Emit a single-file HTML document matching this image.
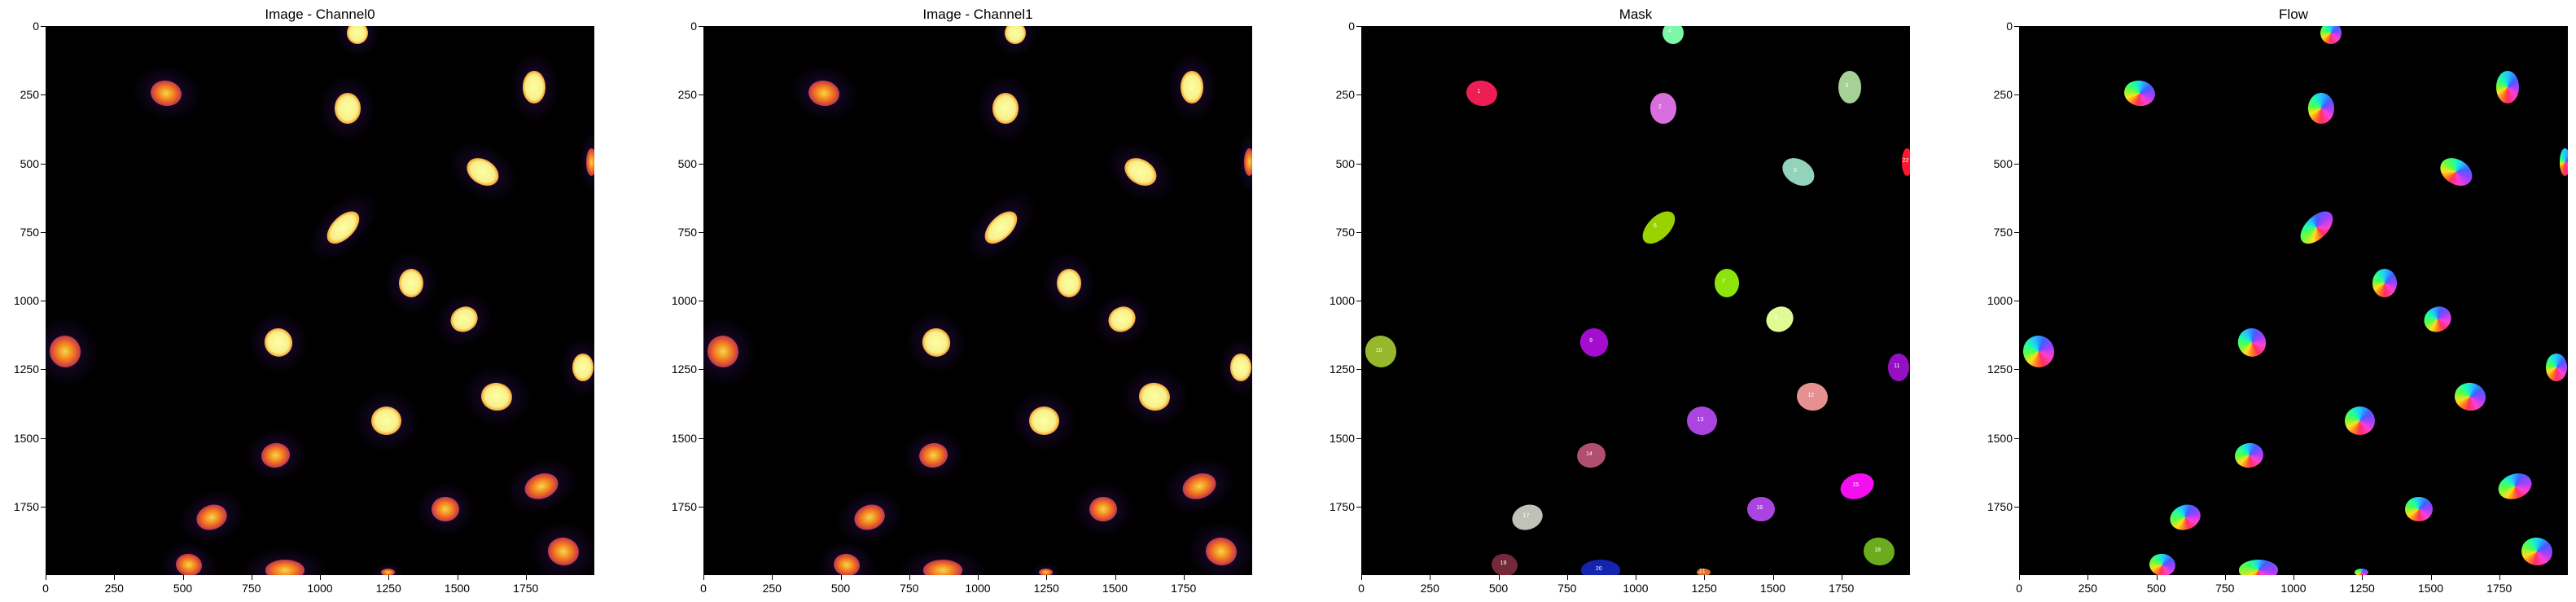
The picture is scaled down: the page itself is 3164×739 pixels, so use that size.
<!DOCTYPE html>
<html><head><meta charset="utf-8">
<style>
body{margin:0;width:3164px;height:739px;background:#fff;position:relative;overflow:hidden;font-family:"Liberation Sans","DejaVu Sans",sans-serif}
.panel{position:absolute;top:32px;width:674px;height:674px;background:#000;overflow:hidden}
.title{position:absolute;top:8px;width:674px;text-align:center;font-size:17px;color:#000}
.blob{position:absolute;border-radius:50%}
.tk{position:absolute;background:#000}
.tl{position:absolute;font-size:14px;color:#000;white-space:nowrap}
</style></head>
<body>
<div id="root"></div>
<script>
const titles=["Image - Channel0","Image - Channel1","Mask","Flow"];
const ticks=[0,250,500,750,1000,1250,1500,1750];
const cx=[441,1100,1781,1136,1594,1083,1332,1524,849,71,1959,1645,1242,837,1808,1458,607,1888,524,872,1249,1990];
const cy=[244,300,223,25,531,733,936,1069,1152,1187,1243,1350,1439,1564,1676,1760,1788,1913,1962,1983,1990,496];
const rx=[57,48,41,38,62,72,45,50,50,56,38,57,55,52,62,50,57,57,48,72,25,20];
const ry=[46,56,59,40,44,40,52,44,52,58,50,50,52,44,44,45,44,50,40,38,14,50];
const rot=[10,0,0,0,32,-45,0,-30,-30,-20,0,10,0,-10,-20,0,-20,10,10,0,0,0];
const bright=[0,1,1,1,1,1,1,1,1,0,1,1,1,0,0,0,0,0,0,0,0,0];
const maskColors=["#ee1d56","#d96ee0","#a6d196","#7cf7a5","#93d2bb","#9ad200","#8de40c","#e0fa95","#a40ccf","#97b72d","#9610c3","#e69191","#ac45e0","#b04f70","#f30ff0","#a944e0","#c0c2b8","#6aac1c","#74293a","#1423b0","#e0702a","#ff1730"];
const lefts=[56,864,1672,2480];
const S=674/2000;
const sx=v=>v*S, sy=v=>v*S;
const root=document.getElementById('root');
function mk(parent,cls){const d=document.createElement('div');d.className=cls;parent.appendChild(d);return d;}
lefts.forEach((L,p)=>{
  const t=mk(root,'title');t.style.left=L+'px';t.textContent=titles[p];
  
  
  const pn=mk(root,'panel');pn.style.left=L+'px';
  
  
  for(let i=0;i<cx.length;i++){
    const w=sx(rx[i])*2,h=sy(ry[i])*2,x=sx(cx[i]),y=sy(cy[i]);
    if(p<2){
      const c=mk(pn,'blob');
      c.style.cssText=`left:${x-w*1.1}px;top:${y-h*1.1}px;width:${w*2.2}px;height:${h*2.2}px;background:radial-gradient(closest-side,rgba(60,20,100,0.55),rgba(40,12,70,0.25) 70%,rgba(0,0,0,0));transform:rotate(${rot[i]}deg)`;
      
      
    }
    const b=mk(pn,'blob');
    b.style.cssText=`left:${x-w/2}px;top:${y-h/2}px;width:${w}px;height:${h}px;transform:rotate(${rot[i]}deg)`;
    if(p<2){
      b.style.background=bright[i]?'radial-gradient(closest-side,#fcffa4,#f8f08a 75%,#f5a030)':'radial-gradient(closest-side,#f6d746,#f1731d 60%,#c43c4e 95%)';
    }else if(p===2){
      b.style.background=maskColors[i];
    }else{
      b.style.background='conic-gradient(#20c8ff,#4060ff 45deg,#a040ff 90deg,#ff40d0 135deg,#ff3060 180deg,#ff8020 210deg,#ffe020 240deg,#60ff40 280deg,#20ffa0 320deg,#20c8ff)';
    }
    
    
    if(p===2){
      const lb=mk(pn,'tl');lb.textContent=String(i+1);
      lb.style.cssText=`left:${x-6}px;top:${y-5}px;font-size:7px;color:#fff`;
      
      
    }
  }
  ticks.forEach(v=>{
    const xt=mk(root,'tk');xt.style.cssText=`left:${L+sx(v)}px;top:706px;width:1px;height:6px`;
    
    
    const xl=mk(root,'tl');xl.textContent=v;xl.style.cssText=`left:${L+sx(v)-20}px;width:40px;text-align:center;top:714px`;
    
    
    const yt=mk(root,'tk');yt.style.cssText=`left:${L-6}px;top:${32+sy(v)}px;width:6px;height:1px`;
    
    
    const yl=mk(root,'tl');yl.textContent=v;yl.style.cssText=`left:${L-52}px;width:44px;text-align:right;top:${32+sy(v)-8}px`;
    
    
  });
});
</script>
</body></html>
